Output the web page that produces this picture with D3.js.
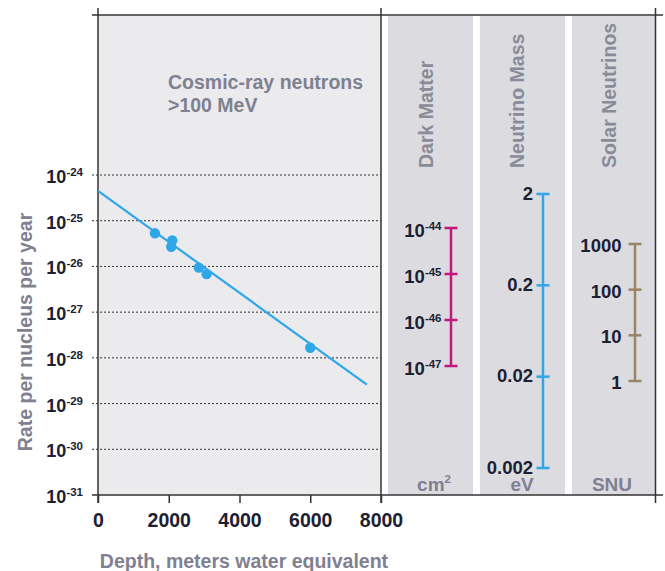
<!DOCTYPE html>
<html>
<head>
<meta charset="utf-8">
<script src="https://cdn.jsdelivr.net/npm/d3@7"></script>
<style>
  body { margin: 0; background: #fff; }
  svg { display: block; font-family: "Liberation Sans", Arial, sans-serif; font-weight: bold; }
</style>
</head>
<body>
<svg id="chart" width="665" height="571"></svg>
<script>
// main panel data: depth (m.w.e.) vs rate per nucleus per year
const depthTicks = [0, 2000, 4000, 6000, 8000];
const rateExponents = [-24, -25, -26, -27, -28, -29, -30, -31];
const fitDepths = [0, 7600];
const fitRates = [4.5e-25, 2.6e-29];
const pointDepths = [1610, 2100, 2070, 2850, 3070, 6000];
const pointRates = [5.3e-26, 3.7e-26, 2.7e-26, 9.4e-27, 6.8e-27, 1.66e-28];

// side panels
const panelNames = ["Dark Matter", "Neutrino Mass", "Solar Neutrinos"];
const panelUnits = ["cm2", "eV", "SNU"];
const darkMatterExp = [-44, -45, -46, -47];
const neutrinoMassTicks = [2, 0.2, 0.02, 0.002];
const solarTicks = [1000, 100, 10, 1];

const svg = d3.select("#chart");
const ink = "#1d2033", grayText = "#7f8090", blue = "#2ea6e8";

const x = d3.scaleLinear().domain([0, 8000]).range([98, 381]);
const y = d3.scaleLog().domain([1e-31, 1e-24]).range([495, 175]);

// backgrounds
svg.append("rect").attr("x", 98).attr("y", 15).attr("width", 283).attr("height", 480).attr("fill", "#ebebee");
const panelX = [[388, 473], [480, 565], [572, 655]];
panelX.forEach(p => {
    svg.append("rect").attr("x", p[0]).attr("y", 16).attr("width", p[1] - p[0]).attr("height", 479).attr("fill", "#dcdce0");
});

// dotted gridlines
svg.append("g").selectAll("line").data(rateExponents.slice(0, -1)).join("line")
    .attr("x1", 92).attr("x2", 381)
    .attr("y1", d => y(Math.pow(10, d))).attr("y2", d => y(Math.pow(10, d)))
    .attr("stroke", "#333").attr("stroke-width", 1).attr("stroke-dasharray", "2,2");

// frame lines
const frame = svg.append("g").attr("stroke", "#333").attr("stroke-width", 1.5);
frame.append("line").attr("x1", 92).attr("x2", 663).attr("y1", 15).attr("y2", 15);
frame.append("line").attr("x1", 92).attr("x2", 663).attr("y1", 495).attr("y2", 495);
frame.append("line").attr("x1", 98).attr("x2", 98).attr("y1", 8).attr("y2", 503);
frame.append("line").attr("x1", 381).attr("x2", 381).attr("y1", 8).attr("y2", 503);
frame.append("line").attr("x1", 655.5).attr("x2", 655.5).attr("y1", 8).attr("y2", 503);

// x axis
const xAxis = svg.append("g").attr("transform", "translate(0,495)")
    .call(d3.axisBottom(x).tickValues(depthTicks).tickSize(8).tickPadding(10).tickFormat(d3.format("d")));
xAxis.select(".domain").remove();
xAxis.selectAll("line").attr("stroke", "#333").attr("stroke-width", 1.5);
xAxis.selectAll("text").attr("fill", ink).attr("font-size", 19.5).attr("font-family", "Liberation Sans, Arial, sans-serif").attr("font-weight", "bold");

// y axis labels as 10^n
const yLab = svg.append("g");
rateExponents.forEach(e => {
    const t = yLab.append("text").attr("x", 83).attr("y", y(Math.pow(10, e)) + 8)
        .attr("text-anchor", "end").attr("fill", ink).attr("font-size", 18);
    t.append("tspan").text("10");
    t.append("tspan").attr("dy", -7).attr("font-size", 11.5).text(e);
});

// axis titles
svg.append("text").attr("transform", "translate(31.5,332) rotate(-90)").attr("text-anchor", "middle")
    .attr("fill", grayText).attr("font-size", 19.5).text("Rate per nucleus per year");
svg.append("text").attr("x", 244).attr("y", 568).attr("text-anchor", "middle")
    .attr("fill", grayText).attr("font-size", 19.5).text("Depth, meters water equivalent");

// annotation
svg.append("text").attr("x", 168).attr("y", 89).attr("fill", grayText).attr("font-size", 19.5).text("Cosmic-ray neutrons");
svg.append("text").attr("x", 168).attr("y", 112).attr("fill", grayText).attr("font-size", 19.5).text(">100 MeV");

// fit line and points
svg.append("path")
    .datum(fitDepths.map((d, i) => [d, fitRates[i]]))
    .attr("d", d3.line().x(d => x(d[0])).y(d => y(d[1])))
    .attr("fill", "none").attr("stroke", blue).attr("stroke-width", 2.2);
svg.append("g").selectAll("circle").data(pointDepths.map((d, i) => [d, pointRates[i]])).join("circle")
    .attr("cx", d => x(d[0])).attr("cy", d => y(d[1])).attr("r", 5.2).attr("fill", blue);

// side panels: titles, units, error-bar ranges
const panelCenters = [434, 522, 612];
const titleX = [433, 524, 616];
panelNames.forEach((n, i) => {
    svg.append("text").attr("transform", `translate(${titleX[i]},168) rotate(-90)`)
        .attr("fill", "#8a8b99").attr("font-size", 19.5).text(n);
});
panelUnits.forEach((u, i) => {
    const t = svg.append("text").attr("x", panelCenters[i]).attr("y", 490.5)
        .attr("text-anchor", "middle").attr("fill", grayText).attr("font-size", 19);
    if (u === "cm2") {
        t.append("tspan").text("cm");
        t.append("tspan").attr("dy", -8).attr("font-size", 11.5).text("2");
    } else {
        t.text(u);
    }
});

function rangeBar(barX, scale, values, color, gap, dy, labelFn) {
    const g = svg.append("g");
    const ext = d3.extent(values);
    g.append("line").attr("x1", barX).attr("x2", barX)
        .attr("y1", scale(ext[1])).attr("y2", scale(ext[0]))
        .attr("stroke", color).attr("stroke-width", 2.5);
    values.forEach(v => {
        g.append("line").attr("x1", barX - 6.5).attr("x2", barX + 6.5)
            .attr("y1", scale(v)).attr("y2", scale(v))
            .attr("stroke", color).attr("stroke-width", 2.5);
        const t = g.append("text").attr("x", barX - gap).attr("y", scale(v) + dy)
            .attr("text-anchor", "end").attr("fill", ink).attr("font-size", 18.5);
        labelFn(t, v);
    });
}

const dmScale = d3.scaleLog().domain([1e-47, 1e-44]).range([366, 228]);
rangeBar(451, dmScale, darkMatterExp.map(e => Math.pow(10, e)), "#c7157f", 9.5, 8.5, (t, v) => {
    t.append("tspan").text("10");
    t.append("tspan").attr("dy", -7).attr("font-size", 11.5).text(Math.round(Math.log10(v)));
});
const nmScale = d3.scaleLog().domain([0.002, 2]).range([468, 194]);
rangeBar(543, nmScale, neutrinoMassTicks, blue, 10, 5.5, (t, v) => t.text(v));
const snScale = d3.scaleLog().domain([1, 1000]).range([381, 244]);
rangeBar(635, snScale, solarTicks, "#9b8466", 13.5, 8, (t, v) => t.text(v));
</script>
</body>
</html>
